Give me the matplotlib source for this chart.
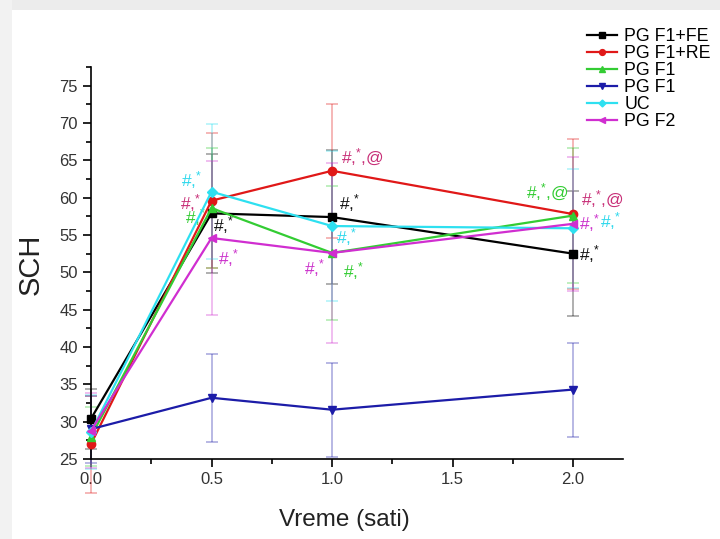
import matplotlib
matplotlib.use("Agg")
import matplotlib.pyplot as plt
from matplotlib.patches import Rectangle
from matplotlib.ticker import MultipleLocator

plt.rcParams['font.family'] = ['Liberation Sans', 'DejaVu Sans']
plt.rcParams['mathtext.default'] = 'regular'

# Time points (hours)
time_h = [0.0, 0.5, 1.0, 2.0]

# Group means and error bars
groups = ["PG F1+FE", "PG F1+RE", "PG F1", "UC", "PG F2"]
fe_mean = [30.4, 57.9, 57.4, 52.5]
fe_err = [4.0, 8.0, 9.0, 8.4]
re_mean = [27.0, 59.6, 63.6, 57.8]
re_err = [6.5, 9.0, 9.0, 10.0]
f1g_mean = [28.0, 58.6, 52.6, 57.6]
f1g_err = [4.0, 8.0, 9.0, 9.0]
f1b_mean = [29.0, 33.2, 31.6, 34.3]
f1b_err = [4.5, 5.9, 6.3, 6.3]
uc_mean = [28.6, 60.8, 56.2, 55.9]
uc_err = [5.0, 9.0, 10.0, 8.0]
f2_mean = [28.8, 54.6, 52.6, 56.5]
f2_err = [5.0, 10.3, 12.0, 9.0]

series = [
    ("PG F1+FE", fe_mean, fe_err, "#000000", "s"),
    ("PG F1+RE", re_mean, re_err, "#e01818", "o"),
    ("PG F1", f1g_mean, f1g_err, "#33cc33", "^"),
    ("PG F1", f1b_mean, f1b_err, "#1c1ca8", "v"),
    ("UC", uc_mean, uc_err, "#2ee0f0", "D"),
    ("PG F2", f2_mean, f2_err, "#d02ed0", "<"),
]
legend_labels = ["PG F1+FE", "PG F1+RE", "PG F1", "PG F1", "UC", "PG F2"]

fig = plt.figure(figsize=(7.2, 5.39), dpi=100)
# light frame around the page
fig.patches.append(Rectangle((0, 1 - 10 / 539), 1, 10 / 539, transform=fig.transFigure,
                             facecolor="#ececec", edgecolor="none", zorder=0))
fig.patches.append(Rectangle((0, 0), 12 / 720, 1, transform=fig.transFigure,
                             facecolor="#f2f2f2", edgecolor="none", zorder=0))

ax = fig.add_axes([91 / 720, 1 - 459 / 539, (623 - 91) / 720, (459 - 67) / 539])

handles = []
for lab, mean, err, col, mk in series:
    ax.errorbar(time_h, mean, yerr=err, fmt="none", ecolor=col, alpha=0.4,
                elinewidth=1.1, capsize=4, capthick=1.1, clip_on=False, zorder=2)
    h, = ax.plot(time_h, mean, color=col, marker=mk, markersize=6 if mk != "D" else 5,
                 linewidth=1.6, zorder=3, clip_on=False)
    handles.append(h)

# Significance labels: (series index, time index, text, color, dx px, dy px)
star = r"#,$^{*}$"
starat = r"#,$^{*}$,@"
c_black, c_re, c_green, c_cyan, c_mag = "#111111", "#c83078", "#33cc33", "#2ed8ec", "#cc33cc"
notes = [
    (4, 1, star, c_cyan, -20, 12),
    (1, 1, star, c_re, -21, -2),
    (2, 1, star, c_green, -16, -9),
    (0, 1, star, c_black, 12, -12),
    (5, 1, star, c_mag, 17, -20),
    (1, 2, starat, c_re, 30, 13),
    (0, 2, star, c_black, 18, 14),
    (4, 2, star, c_cyan, 15, -11),
    (5, 2, star, c_mag, -17, -15),
    (2, 2, star, c_green, 22, -18),
    (2, 3, starat, c_green, -26, 23),
    (1, 3, starat, c_re, 29, 15),
    (5, 3, star, c_mag, 16, 1),
    (4, 3, star, c_cyan, 37, 7),
    (0, 3, star, c_black, 16, 0),
]
for si, ti, txt, col, dx, dy in notes:
    mean = series[si][1]
    z = 1 if (si == 2 and ti == 1) else 5
    ax.annotate(txt, xy=(time_h[ti], mean[ti]), xytext=(dx, dy),
                textcoords="offset pixels", ha="center", va="center",
                color=col, fontsize=12.5, zorder=z, annotation_clip=False)

ax.set_xlim(0, 2.207)
ax.set_ylim(25, 77.5)
ax.xaxis.set_major_locator(MultipleLocator(0.5))
ax.xaxis.set_minor_locator(MultipleLocator(0.25))
ax.yaxis.set_major_locator(MultipleLocator(5))
ax.yaxis.set_minor_locator(MultipleLocator(2.5))
ax.set_xticks([0.0, 0.5, 1.0, 1.5, 2.0])
ax.set_xticklabels(["0.0", "0.5", "1.0", "1.5", "2.0"])
ax.tick_params(axis="both", which="major", direction="out", length=6, width=1.2,
               labelsize=12, colors="#000000", labelcolor="#333333")
ax.tick_params(axis="both", which="minor", direction="out", length=3.5, width=1.2)
for s in ["top", "right"]:
    ax.spines[s].set_visible(False)
for s in ["left", "bottom"]:
    ax.spines[s].set_linewidth(1.2)

ax.set_xlabel("Vreme (sati)", fontsize=17.5, color="#222222")
ax.xaxis.set_label_coords((344 - 91) / (623 - 91), -(520 - 459) / (459 - 67), transform=ax.transAxes)
ax.xaxis.label.set_va("center")
ax.set_ylabel("SCH", fontsize=21, color="#222222")
ax.yaxis.set_label_coords(-(91 - 31) / (623 - 91), (459 - 264) / (459 - 67), transform=ax.transAxes)
ax.yaxis.label.set_va("center")

fig.legend(handles, legend_labels, loc="upper left", bbox_to_anchor=(580 / 720, 1 - 21 / 539),
           frameon=False, fontsize=12.8, handlelength=1.7, handletextpad=0.4,
           labelspacing=0.0, borderaxespad=0, markerscale=0.7)

fig.savefig("out.png", dpi=100)
